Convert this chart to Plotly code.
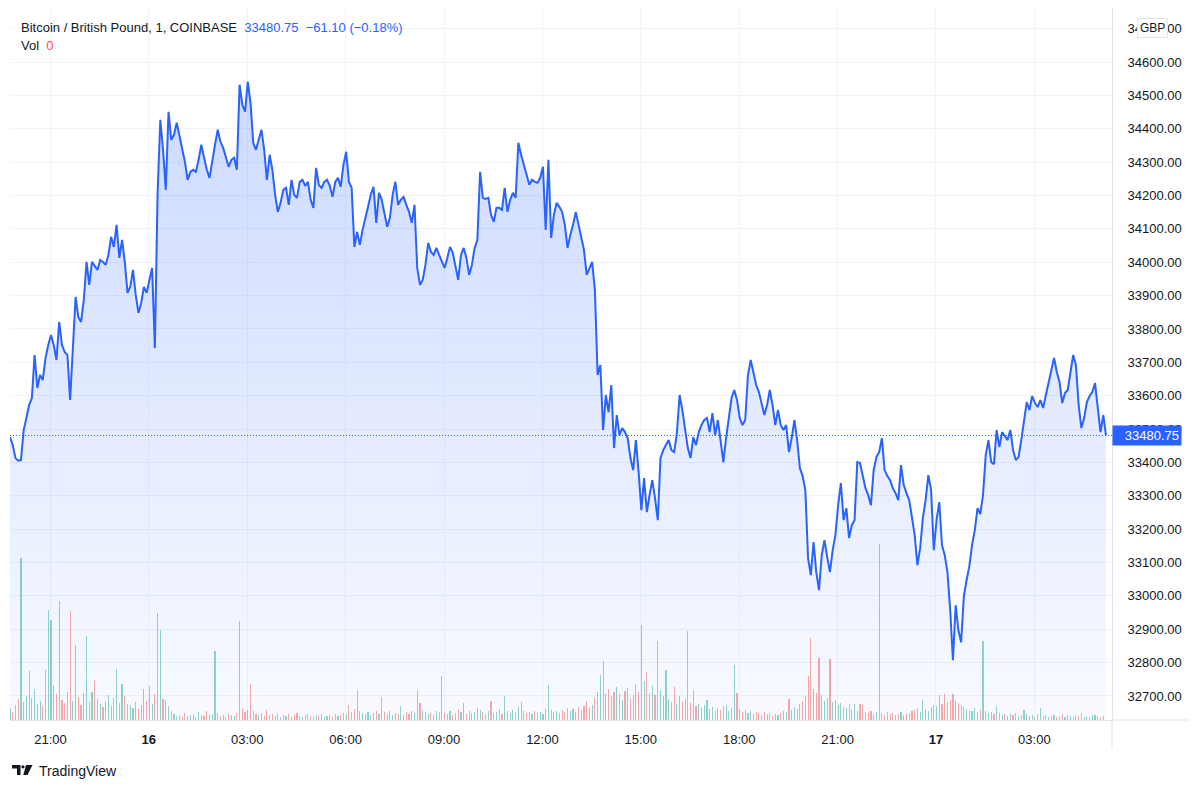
import plotly.graph_objects as go
import pandas as pd

# ---------------- data ----------------
start_time = "2021-09-15 19:46"
bar_minutes = 5

price = [
    33476, 33452, 33413, 33405, 33407, 33497, 33533, 33572, 33593, 33722,
    33623, 33662, 33647, 33713, 33752, 33782, 33752, 33707, 33821, 33752,
    33731, 33722, 33587, 33737, 33896, 33836, 33821, 33887, 34001, 33932,
    34001, 33989, 33977, 34007, 34001, 33992, 34022, 34076, 34046, 34112,
    34013, 34067, 34001, 33908, 33926, 33977, 33902, 33848, 33878, 33926,
    33908, 33947, 33983, 33743, 34208, 34427, 34337, 34217, 34451, 34367,
    34382, 34418, 34382, 34346, 34301, 34247, 34271, 34277, 34271, 34307,
    34352, 34313, 34277, 34253, 34307, 34352, 34397, 34361, 34343, 34313,
    34286, 34307, 34313, 34277, 34532, 34472, 34451, 34541, 34478, 34358,
    34337, 34367, 34397, 34337, 34247, 34322, 34277, 34202, 34151, 34178,
    34217, 34223, 34172, 34247, 34202, 34193, 34241, 34247, 34229, 34241,
    34187, 34163, 34283, 34232, 34223, 34241, 34247, 34229, 34196, 34241,
    34253, 34226, 34292, 34331, 34241, 34223, 34046, 34091, 34052, 34097,
    34136, 34166, 34202, 34226, 34118, 34208, 34187, 34151, 34106, 34133,
    34202, 34241, 34172, 34187, 34196, 34172, 34151, 34118, 34172, 33983,
    33932, 33947, 33992, 34058, 34031, 34022, 34043, 34022, 34001, 33983,
    34013, 34046, 34028, 33992, 33947, 34022, 34043, 34013, 33962, 33992,
    34043, 34067, 34271, 34193, 34190, 34193, 34142, 34121, 34163, 34163,
    34157, 34223, 34151, 34187, 34208, 34193, 34358, 34322, 34292, 34262,
    34232, 34247, 34241, 34238, 34253, 34286, 34097, 34307, 34073, 34142,
    34178, 34166, 34151, 34112, 34043, 34082, 34112, 34151, 34112, 34073,
    34037, 33962, 33983, 34001, 33917, 33662, 33692, 33497, 33602, 33551,
    33632, 33443, 33542, 33482, 33503, 33491, 33473, 33413, 33377, 33467,
    33371, 33257, 33353, 33251, 33302, 33347, 33293, 33227, 33413, 33437,
    33452, 33467, 33437, 33431, 33488, 33602, 33557, 33497, 33443, 33413,
    33476, 33452, 33491, 33512, 33527, 33533, 33491, 33548, 33482, 33527,
    33467, 33401, 33473, 33527, 33593, 33617, 33587, 33533, 33512, 33527,
    33662, 33707, 33671, 33632, 33611, 33572, 33542, 33572, 33617, 33572,
    33512, 33557, 33512, 33497, 33512, 33431, 33473, 33527, 33467, 33383,
    33359, 33317, 33113, 33062, 33161, 33071, 33017, 33122, 33167, 33116,
    33071, 33137, 33182, 33272, 33338, 33227, 33263, 33173, 33212, 33227,
    33401, 33398, 33362, 33323, 33302, 33272, 33377, 33416, 33431, 33473,
    33377, 33359, 33347, 33323, 33308, 33287, 33392, 33332, 33308, 33287,
    33236, 33182, 33092, 33143, 33233, 33287, 33362, 33317, 33137, 33227,
    33281, 33152, 33122, 33071, 32957, 32807, 32972, 32897, 32861, 32999,
    33047, 33089, 33152, 33197, 33263, 33245, 33302, 33422, 33467, 33401,
    33395, 33497, 33446, 33491, 33479, 33467, 33497, 33437, 33407, 33416,
    33467, 33527, 33581, 33557, 33599, 33578, 33566, 33587, 33563, 33602,
    33641, 33683, 33713, 33671, 33641, 33578, 33608, 33617, 33671, 33722,
    33692, 33572, 33503, 33533, 33581, 33599, 33611, 33638, 33563, 33491,
    33541.85, 33480.75,
]

volume = [
    1.2, 0.8, 1.5, 2.1, 16.2, 1.8, 2.4, 4.9, 2.2, 3.1,
    1.6, 1.9, 1.4, 5.0, 11.0, 10.0, 3.5, 2.6, 11.9, 2.0,
    1.7, 2.8, 10.9, 1.9, 7.5, 2.3, 1.5, 2.7, 8.4, 1.8,
    2.8, 4.0, 2.1, 1.6, 1.3, 1.9, 2.5, 1.4, 2.2, 5.1,
    1.7, 3.6, 2.4, 1.6, 1.5, 1.2, 1.8, 1.1, 1.5, 3.1,
    1.9, 3.4, 1.6, 2.6, 10.7, 9.0, 2.1, 2.0, 1.4, 0.9,
    0.6, 0.4, 0.5, 0.3, 0.7, 0.4, 0.5, 0.6, 0.3, 0.8,
    0.5, 0.4, 0.9, 0.5, 0.6, 6.9, 0.7, 0.4, 0.5, 0.3,
    0.6, 0.5, 0.4, 0.7, 9.9, 1.2, 0.8, 1.0, 3.6, 0.9,
    0.6, 0.5, 0.7, 0.4, 1.0, 0.5, 0.6, 0.4, 0.7, 0.3,
    0.5, 0.4, 0.6, 0.3, 0.5, 0.7, 0.4, 0.3, 0.5, 0.6,
    0.4, 0.3, 0.5, 0.4, 0.6, 0.3, 0.4, 0.5, 0.3, 0.6,
    0.4, 0.5, 0.7, 0.6, 1.5, 0.8, 1.1, 3.0, 0.9, 0.7,
    0.6, 0.8, 0.5, 0.7, 0.9, 0.6, 2.3, 0.8, 0.6, 0.9,
    0.5, 0.7, 0.6, 1.4, 0.5, 0.8, 0.6, 0.9, 0.7, 3.0,
    1.7, 1.0, 0.8, 0.6, 0.7, 0.5, 0.9, 0.8, 4.4, 0.7,
    0.6, 0.9, 0.5, 0.7, 1.1, 0.8, 1.7, 0.6, 0.9, 0.7,
    0.8, 1.2, 1.0, 0.8, 0.6, 0.9, 1.9, 0.7, 0.8, 1.1,
    0.6, 2.4, 0.9, 0.7, 1.0, 0.8, 1.3, 1.8, 0.9, 0.7,
    0.8, 0.6, 0.9, 0.7, 0.8, 0.6, 1.1, 3.5, 1.0, 0.8,
    0.9, 0.7, 1.0, 0.8, 1.2, 0.9, 1.1, 0.8, 1.3, 1.0,
    1.4, 1.9, 1.2, 1.5, 2.2, 2.8, 4.5, 5.9, 2.6, 3.1,
    2.4, 2.8, 3.3, 2.6, 2.0, 2.9, 3.2, 2.2, 2.5, 3.6,
    2.8, 9.5, 3.9, 4.8, 2.7, 3.4, 2.5, 7.9, 3.0, 2.4,
    5.0, 2.1, 1.8, 3.3, 1.6, 2.4, 1.9, 2.2, 8.9, 1.7,
    3.0, 1.4, 1.6, 1.2, 1.5, 2.0, 1.1, 1.3, 0.9, 1.2,
    1.0, 1.4, 1.5, 0.9, 1.2, 5.5, 2.7, 1.1, 0.8, 1.0,
    0.7, 0.9, 0.6, 0.8, 0.7, 0.5, 0.8, 0.6, 0.7, 0.4,
    0.6, 0.5, 0.7, 0.9, 0.8, 2.1, 1.0, 1.3, 1.1, 1.6,
    1.9, 2.4, 4.4, 8.2, 3.1, 2.7, 6.2, 2.5, 1.9, 2.2,
    6.1, 1.8, 2.0, 1.5, 1.7, 1.3, 1.2, 1.6, 1.1, 1.6,
    0.9, 1.6, 1.5, 0.8, 0.7, 0.9, 0.6, 0.8, 17.6, 0.7,
    0.5, 0.8, 0.6, 0.7, 0.5, 0.6, 0.8, 0.5, 0.6, 0.7,
    0.9, 1.0, 1.2, 0.8, 2.0, 1.1, 0.9, 1.3, 1.5, 1.4,
    2.5, 1.6, 2.6, 1.8, 2.0, 2.6, 1.9, 1.7, 1.5, 1.3,
    1.1, 1.0, 0.9, 1.2, 0.8, 1.0, 7.9, 0.9, 0.7, 0.8,
    0.6, 1.4, 0.7, 0.5, 0.6, 0.4, 0.6, 0.5, 0.7, 0.4,
    0.5, 1.0, 0.6, 0.4, 0.5, 0.3, 0.6, 1.2, 0.4, 0.5,
    0.3, 0.4, 0.5, 0.3, 0.4, 0.6, 0.3, 0.5, 0.4, 0.3,
    0.5, 0.4, 0.7, 0.3, 0.4, 0.3, 0.5, 0.5, 0.4, 0.3,
    0.4, 0.0,
]

tick_times = [
    "2021-09-15 21:00", "2021-09-16 00:00", "2021-09-16 03:00", "2021-09-16 06:00",
    "2021-09-16 09:00", "2021-09-16 12:00", "2021-09-16 15:00", "2021-09-16 18:00",
    "2021-09-16 21:00", "2021-09-17 00:00", "2021-09-17 03:00",
]
tick_labels = ["21:00", "<b>16</b>", "03:00", "06:00", "09:00", "12:00",
               "15:00", "18:00", "21:00", "<b>17</b>", "03:00"]
price_ticks = [32700, 32800, 32900, 33000, 33100, 33200, 33300, 33400, 33500,
               33600, 33700, 33800, 33900, 34000, 34100, 34200, 34300, 34400,
               34500, 34600, 34700]

symbol_title = "Bitcoin / British Pound, 1, COINBASE"
currency = "GBP"

# ---------------- derived ----------------
times = pd.date_range(start_time, periods=len(price), freq=f"{bar_minutes}min")
last = price[-1]
chg = price[-1] - price[-2]
pct = chg / price[-2] * 100
vol_colors = []
for i in range(len(price)):
    up = i == 0 or price[i] >= price[i - 1]
    vol_colors.append("rgba(38,166,154,0.5)" if up else "rgba(239,83,80,0.5)")

# ---------------- layout helpers ----------------
W, H = 1200, 790
L, R, T, B = 10, 88, 8, 70
PW, PH = W - L - R, H - T - B
def px(x):
    return (x - L) / PW
def py(y):
    return (H - B - y) / PH

Y_MIN, Y_MAX = 32628, 34762
FONT = "Liberation Sans, Arial, sans-serif"
TXT = "#131722"
BLUE = "#2962ff"
GRID = "#f0f3fa"
BORDER = "#e0e3eb"

x_end = pd.Timestamp(start_time) + pd.Timedelta(minutes=2016)

fig = go.Figure()
fig.add_trace(go.Scatter(
    x=times, y=price, mode="lines",
    line=dict(color=BLUE, width=2),
    fill="tozeroy",
    fillgradient=dict(type="vertical",
                      colorscale=[[0, "rgba(41,98,255,0.03)"], [1, "rgba(41,98,255,0.26)"]],
                      start=Y_MIN, stop=Y_MAX),
    hoverinfo="skip", showlegend=False,
))
fig.add_trace(go.Bar(
    x=times, y=volume, yaxis="y2",
    marker=dict(color=vol_colors, line=dict(width=0)),
    width=125000, hoverinfo="skip", showlegend=False,
))

shapes = [
    dict(type="line", xref="paper", yref="y", x0=0, x1=1, y0=last, y1=last,
         line=dict(color=BLUE, width=1, dash="1px,2px")),
    dict(type="line", xref="paper", yref="paper", x0=1, x1=px(1188), y0=0, y1=0,
         line=dict(color=BORDER, width=1)),
    dict(type="line", xref="paper", yref="paper", x0=1, x1=1, y0=0, y1=py(750),
         line=dict(color=BORDER, width=1)),
]

def path(points):
    s = "M " + " L ".join(f"{px(a):.5f},{py(b):.5f}" for a, b in points) + " Z"
    return s

# TradingView logo
shapes.append(dict(type="path", xref="paper", yref="paper", line=dict(width=0), fillcolor=TXT,
                   path=path([(12, 765), (20.5, 765), (20.5, 775), (17, 775), (17, 768.5), (12, 768.5)])))
shapes.append(dict(type="circle", xref="paper", yref="paper", line=dict(width=0), fillcolor=TXT,
                   x0=px(21.3), x1=px(24.6), y0=py(765.2), y1=py(768.5)))
shapes.append(dict(type="path", xref="paper", yref="paper", line=dict(width=0), fillcolor=TXT,
                   path=path([(26, 765), (32.5, 765), (27.5, 775), (23.3, 775)])))

annotations = [
    dict(xref="paper", yref="paper", x=px(19), y=py(28), xanchor="left", yanchor="middle",
         showarrow=False, font=dict(family=FONT, size=13, color=TXT),
         text=f"{symbol_title}&nbsp;&nbsp;<span style='color:{BLUE}'>{last:.2f}&nbsp;&nbsp;"
              f"{'−' if chg < 0 else '+'}{abs(chg):.2f} ({'−' if chg < 0 else '+'}{abs(pct):.2f}%)</span>"),
    dict(xref="paper", yref="paper", x=px(19), y=py(46), xanchor="left", yanchor="middle",
         showarrow=False, font=dict(family=FONT, size=13, color=TXT),
         text=f"Vol&nbsp;&nbsp;<span style='color:#ef5350'>{volume[-1]:g}</span>"),
    dict(xref="paper", yref="y", x=1, y=last, xanchor="left", yanchor="middle",
         showarrow=False, font=dict(family=FONT, size=13, color="white"),
         text=f"{last:.2f}", bgcolor=BLUE, borderpad=2, width=64, align="right"),
    dict(xref="paper", yref="paper", x=px(1152), y=py(28), xanchor="center", yanchor="middle",
         showarrow=False, font=dict(family=FONT, size=12, color=TXT),
         text=currency, bgcolor="white", bordercolor=BORDER, borderwidth=1, borderpad=2),
    dict(xref="paper", yref="paper", x=px(37), y=py(771), xanchor="left", yanchor="middle",
         showarrow=False, font=dict(family=FONT, size=14, color=TXT), text="TradingView"),
]

fig.update_layout(
    width=W, height=H,
    margin=dict(l=L, r=R, t=T, b=B),
    paper_bgcolor="white", plot_bgcolor="white",
    bargap=0,
    xaxis=dict(
        type="date", range=[pd.Timestamp(start_time), x_end],
        tickvals=[pd.Timestamp(t) for t in tick_times], ticktext=tick_labels,
        showgrid=True, gridcolor=GRID, gridwidth=1,
        showline=True, linecolor=BORDER, linewidth=1,
        ticks="outside", ticklen=7, tickcolor="rgba(0,0,0,0)",
        tickfont=dict(family=FONT, size=13, color=TXT), zeroline=False,
        fixedrange=True,
    ),
    yaxis=dict(
        side="right", range=[Y_MIN, Y_MAX], tickvals=price_ticks, tickformat=".2f",
        showgrid=True, gridcolor=GRID, gridwidth=1,
        showline=True, linecolor=BORDER, linewidth=1,
        ticks="outside", ticklen=12, tickcolor="rgba(0,0,0,0)",
        tickfont=dict(family=FONT, size=13, color=TXT), zeroline=False,
    ),
    yaxis2=dict(overlaying="y", range=[0, 71.2], visible=False, showgrid=False),
    shapes=shapes,
    annotations=annotations,
    showlegend=False,
)

fig.write_html("out.html")
